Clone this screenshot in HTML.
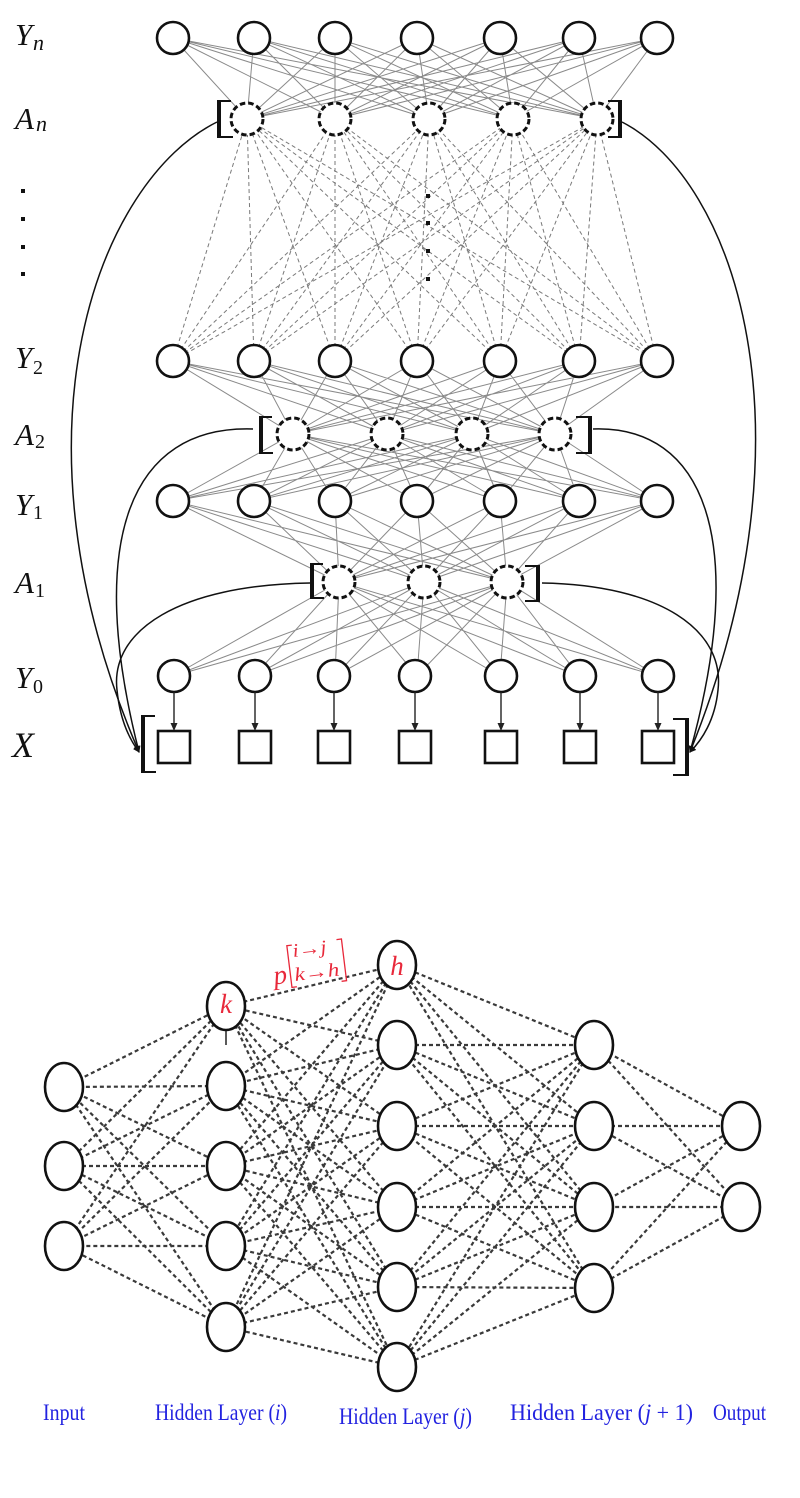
<!DOCTYPE html>
<html><head><meta charset="utf-8"><style>
html,body{margin:0;padding:0;background:#fff;}
svg{display:block;}
</style></head><body>
<svg width="800" height="1498" viewBox="0 0 800 1498" xmlns="http://www.w3.org/2000/svg">
<defs>
<marker id="ah" markerWidth="8" markerHeight="8" refX="6" refY="4" orient="auto" markerUnits="userSpaceOnUse">
<path d="M0,1 L7,4 L0,7 z" fill="#111"/>
</marker>
</defs>
<rect width="800" height="1498" fill="#fff"/>

<!-- ===== TOP DIAGRAM ===== -->
<g fill="none" stroke="#8a8a8a" stroke-width="1">
<path d="M173 38L247 119L254 38M335 38L247 119L417 38M500 38L247 119L579 38M247 119L657 38
M173 38L335 119L254 38M335 38L335 119L417 38M500 38L335 119L579 38M335 119L657 38
M173 38L429 119L254 38M335 38L429 119L417 38M500 38L429 119L579 38M429 119L657 38
M173 38L513 119L254 38M335 38L513 119L417 38M500 38L513 119L579 38M513 119L657 38
M173 38L597 119L254 38M335 38L597 119L417 38M500 38L597 119L579 38M597 119L657 38"/>
<path d="M173 361L293 434L254 361M335 361L293 434L417 361M500 361L293 434L579 361M293 434L657 361
M173 361L387 434L254 361M335 361L387 434L417 361M500 361L387 434L579 361M387 434L657 361
M173 361L472 434L254 361M335 361L472 434L417 361M500 361L472 434L579 361M472 434L657 361
M173 361L555 434L254 361M335 361L555 434L417 361M500 361L555 434L579 361M555 434L657 361"/>
<path d="M173 501L293 434L254 501M335 501L293 434L417 501M500 501L293 434L579 501M293 434L657 501
M173 501L387 434L254 501M335 501L387 434L417 501M500 501L387 434L579 501M387 434L657 501
M173 501L472 434L254 501M335 501L472 434L417 501M500 501L472 434L579 501M472 434L657 501
M173 501L555 434L254 501M335 501L555 434L417 501M500 501L555 434L579 501M555 434L657 501"/>
<path d="M173 501L339 582L254 501M335 501L339 582L417 501M500 501L339 582L579 501M339 582L657 501
M173 501L424 582L254 501M335 501L424 582L417 501M500 501L424 582L579 501M424 582L657 501
M173 501L507 582L254 501M335 501L507 582L417 501M500 501L507 582L579 501M507 582L657 501"/>
<path d="M173 676L339 582L254 676M335 676L339 582L417 676M500 676L339 582L579 676M339 582L657 676
M173 676L424 582L254 676M335 676L424 582L417 676M500 676L424 582L579 676M424 582L657 676
M173 676L507 582L254 676M335 676L507 582L417 676M500 676L507 582L579 676M507 582L657 676"/>
</g>
<g fill="none" stroke="#7a7a7a" stroke-width="1" stroke-dasharray="4 3">
<path d="M173 361L247 119"/><path d="M254 361L247 119"/><path d="M335 361L247 119"/><path d="M417 361L247 119"/><path d="M500 361L247 119"/><path d="M579 361L247 119"/><path d="M657 361L247 119"/>
<path d="M173 361L335 119"/><path d="M254 361L335 119"/><path d="M335 361L335 119"/><path d="M417 361L335 119"/><path d="M500 361L335 119"/><path d="M579 361L335 119"/><path d="M657 361L335 119"/>
<path d="M173 361L429 119"/><path d="M254 361L429 119"/><path d="M335 361L429 119"/><path d="M417 361L429 119"/><path d="M500 361L429 119"/><path d="M579 361L429 119"/><path d="M657 361L429 119"/>
<path d="M173 361L513 119"/><path d="M254 361L513 119"/><path d="M335 361L513 119"/><path d="M417 361L513 119"/><path d="M500 361L513 119"/><path d="M579 361L513 119"/><path d="M657 361L513 119"/>
<path d="M173 361L597 119"/><path d="M254 361L597 119"/><path d="M335 361L597 119"/><path d="M417 361L597 119"/><path d="M500 361L597 119"/><path d="M579 361L597 119"/><path d="M657 361L597 119"/>
</g>

<g fill="#111">
<rect x="426" y="194" width="4" height="4"/><rect x="426" y="221" width="4" height="4"/><rect x="426" y="249" width="4" height="4"/><rect x="426" y="277" width="4" height="4"/>
<rect x="21" y="189" width="4" height="4"/><rect x="21" y="217" width="4" height="4"/><rect x="21" y="245" width="4" height="4"/><rect x="21" y="272" width="4" height="4"/>
</g>

<g fill="none" stroke="#111" stroke-width="1.5">
<path d="M217 122 C 100 180 0 430 139 752" marker-end="url(#ah)"/>
<path d="M622 122 C 735 180 820 430 690 752" marker-end="url(#ah)"/>
<path d="M253 429 C 130 425 85 540 139 752" marker-end="url(#ah)"/>
<path d="M593 429 C 704 425 749 540 690 752" marker-end="url(#ah)"/>
<path d="M310 583 C 180 585 110 630 117 690 C 120 720 130 740 139 752" marker-end="url(#ah)"/>
<path d="M542 583 C 660 585 725 630 718 690 C 715 720 702 740 690 752" marker-end="url(#ah)"/>
</g>

<g fill="#fff" stroke="#111" stroke-width="2.6">
<circle cx="173" cy="38" r="16"/><circle cx="254" cy="38" r="16"/><circle cx="335" cy="38" r="16"/><circle cx="417" cy="38" r="16"/><circle cx="500" cy="38" r="16"/><circle cx="579" cy="38" r="16"/><circle cx="657" cy="38" r="16"/>
<circle cx="173" cy="361" r="16"/><circle cx="254" cy="361" r="16"/><circle cx="335" cy="361" r="16"/><circle cx="417" cy="361" r="16"/><circle cx="500" cy="361" r="16"/><circle cx="579" cy="361" r="16"/><circle cx="657" cy="361" r="16"/>
<circle cx="173" cy="501" r="16"/><circle cx="254" cy="501" r="16"/><circle cx="335" cy="501" r="16"/><circle cx="417" cy="501" r="16"/><circle cx="500" cy="501" r="16"/><circle cx="579" cy="501" r="16"/><circle cx="657" cy="501" r="16"/>
<circle cx="174" cy="676" r="16"/><circle cx="255" cy="676" r="16"/><circle cx="334" cy="676" r="16"/><circle cx="415" cy="676" r="16"/><circle cx="501" cy="676" r="16"/><circle cx="580" cy="676" r="16"/><circle cx="658" cy="676" r="16"/>
</g>
<g fill="#fff" stroke="#111" stroke-width="3" stroke-dasharray="5.5 3">
<circle cx="247" cy="119" r="16"/><circle cx="335" cy="119" r="16"/><circle cx="429" cy="119" r="16"/><circle cx="513" cy="119" r="16"/><circle cx="597" cy="119" r="16"/>
<circle cx="293" cy="434" r="16"/><circle cx="387" cy="434" r="16"/><circle cx="472" cy="434" r="16"/><circle cx="555" cy="434" r="16"/>
<circle cx="339" cy="582" r="16"/><circle cx="424" cy="582" r="16"/><circle cx="507" cy="582" r="16"/>
</g>

<g fill="none" stroke="#111">
<path stroke-width="4" d="M219 100V138M620 100V138M261 416V454M590 416V454M312 563V599M538 565V602M143 715V773M687 718V776"/>
<path stroke-width="2" d="M219 101H231M219 137H233M620 101H608M620 137H608M261 417H272M261 453H273M590 417H576M590 453H576M312 564H323M312 598H324M538 566H525M538 601H525M143 716H155M143 772H156M687 719H673M687 775H673"/>
</g>

<g stroke="#222" stroke-width="1.4">
<path d="M174 692V726M255 692V726M334 692V726M415 692V726M501 692V726M580 692V726M658 692V726"/>
</g>
<g fill="#222">
<path d="M170.5 723L177.5 723L174 731z"/><path d="M251.5 723L258.5 723L255 731z"/><path d="M330.5 723L337.5 723L334 731z"/><path d="M411.5 723L418.5 723L415 731z"/><path d="M497.5 723L504.5 723L501 731z"/><path d="M576.5 723L583.5 723L580 731z"/><path d="M654.5 723L661.5 723L658 731z"/>
</g>
<g fill="#fff" stroke="#111" stroke-width="2.6">
<rect x="158" y="731" width="32" height="32"/><rect x="239" y="731" width="32" height="32"/><rect x="318" y="731" width="32" height="32"/><rect x="399" y="731" width="32" height="32"/><rect x="485" y="731" width="32" height="32"/><rect x="564" y="731" width="32" height="32"/><rect x="642" y="731" width="32" height="32"/>
</g>

<g font-family="Liberation Serif, serif" fill="#111">
<text x="15" y="45" font-size="31" font-style="italic">Y</text><text x="33" y="50" font-size="22" font-style="italic">n</text>
<text x="15" y="129" font-size="31" font-style="italic">A</text><text x="36" y="131" font-size="22" font-style="italic">n</text>
<text x="15" y="368" font-size="31" font-style="italic">Y</text><text x="33" y="374" font-size="20">2</text>
<text x="15" y="445" font-size="31" font-style="italic">A</text><text x="35" y="448" font-size="20">2</text>
<text x="15" y="515" font-size="31" font-style="italic">Y</text><text x="33" y="519" font-size="20">1</text>
<text x="15" y="593" font-size="31" font-style="italic">A</text><text x="35" y="597" font-size="20">1</text>
<text x="15" y="688" font-size="31" font-style="italic">Y</text><text x="33" y="693" font-size="20">0</text>
<text x="12" y="757" font-size="36" font-style="italic">X</text>
</g>

<!-- ===== BOTTOM DIAGRAM ===== -->
<g fill="none" stroke="#3a3a3a" stroke-width="2.2" stroke-dasharray="4 3">
<path d="M226 1006L64 1087L226 1086M226 1166L64 1087L226 1246M64 1087L226 1327
M226 1006L64 1166L226 1086M226 1166L64 1166L226 1246M64 1166L226 1327
M226 1006L64 1246L226 1086M226 1166L64 1246L226 1246M64 1246L226 1327"/>
<path d="M397 965L226 1006L397 1045M397 1126L226 1006L397 1207M397 1287L226 1006L397 1367
M397 965L226 1086L397 1045M397 1126L226 1086L397 1207M397 1287L226 1086L397 1367
M397 965L226 1166L397 1045M397 1126L226 1166L397 1207M397 1287L226 1166L397 1367
M397 965L226 1246L397 1045M397 1126L226 1246L397 1207M397 1287L226 1246L397 1367
M397 965L226 1327L397 1045M397 1126L226 1327L397 1207M397 1287L226 1327L397 1367"/>
<path d="M594 1045L397 965L594 1126M594 1207L397 965L594 1288
M594 1045L397 1045L594 1126M594 1207L397 1045L594 1288
M594 1045L397 1126L594 1126M594 1207L397 1126L594 1288
M594 1045L397 1207L594 1126M594 1207L397 1207L594 1288
M594 1045L397 1287L594 1126M594 1207L397 1287L594 1288
M594 1045L397 1367L594 1126M594 1207L397 1367L594 1288"/>
<path d="M741 1126L594 1045L741 1207M741 1126L594 1126L741 1207M741 1126L594 1207L741 1207M741 1126L594 1288L741 1207"/>
</g>
<path d="M226 1031V1045" stroke="#222" stroke-width="1.5"/>

<g fill="#fff" stroke="#111" stroke-width="2.6">
<ellipse cx="64" cy="1087" rx="19" ry="24"/><ellipse cx="64" cy="1166" rx="19" ry="24"/><ellipse cx="64" cy="1246" rx="19" ry="24"/>
<ellipse cx="226" cy="1006" rx="19" ry="24"/><ellipse cx="226" cy="1086" rx="19" ry="24"/><ellipse cx="226" cy="1166" rx="19" ry="24"/><ellipse cx="226" cy="1246" rx="19" ry="24"/><ellipse cx="226" cy="1327" rx="19" ry="24"/>
<ellipse cx="397" cy="965" rx="19" ry="24"/><ellipse cx="397" cy="1045" rx="19" ry="24"/><ellipse cx="397" cy="1126" rx="19" ry="24"/><ellipse cx="397" cy="1207" rx="19" ry="24"/><ellipse cx="397" cy="1287" rx="19" ry="24"/><ellipse cx="397" cy="1367" rx="19" ry="24"/>
<ellipse cx="594" cy="1045" rx="19" ry="24"/><ellipse cx="594" cy="1126" rx="19" ry="24"/><ellipse cx="594" cy="1207" rx="19" ry="24"/><ellipse cx="594" cy="1288" rx="19" ry="24"/>
<ellipse cx="741" cy="1126" rx="19" ry="24"/><ellipse cx="741" cy="1207" rx="19" ry="24"/>
</g>

<g font-family="Liberation Serif, serif" fill="#e8283a" font-style="italic">
<text x="226" y="1013" font-size="27" text-anchor="middle">k</text>
<text x="397" y="975" font-size="27" text-anchor="middle">h</text>
<g transform="rotate(-7 310 962)">
<text x="272" y="980" font-size="27">p</text>
<text x="294" y="955" font-size="19" textLength="34" lengthAdjust="spacingAndGlyphs">i→j</text>
<text x="293" y="979" font-size="19" textLength="45" lengthAdjust="spacingAndGlyphs">k→h</text>
<path d="M294 943H289V985H294M339 943H344V985H339" fill="none" stroke="#e8283a" stroke-width="1.3"/>
</g>
</g>

<g font-family="Liberation Serif, serif" fill="#2222e0" font-size="23">
<text x="43" y="1420" textLength="42" lengthAdjust="spacingAndGlyphs">Input</text>
<text x="155" y="1420" textLength="132" lengthAdjust="spacingAndGlyphs">Hidden Layer (<tspan font-style="italic">i</tspan>)</text>
<text x="339" y="1424" textLength="133" lengthAdjust="spacingAndGlyphs">Hidden Layer (<tspan font-style="italic">j</tspan>)</text>
<text x="510" y="1420" textLength="183" lengthAdjust="spacingAndGlyphs">Hidden Layer (<tspan font-style="italic">j</tspan> + 1)</text>
<text x="713" y="1420" textLength="53" lengthAdjust="spacingAndGlyphs">Output</text>
</g>
</svg>
</body></html>
